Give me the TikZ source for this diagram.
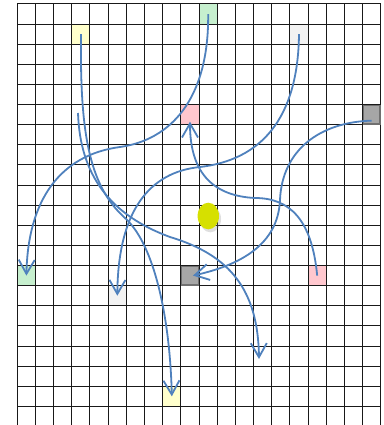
\documentclass[tikz,border=0pt]{standalone}
\usetikzlibrary{arrows.meta,shadows,shapes.geometric}
\definecolor{arrowblue}{RGB}{79,129,189}
\definecolor{cyellow}{RGB}{255,255,204}
\definecolor{cgreen}{RGB}{198,239,206}
\definecolor{clgray}{RGB}{242,242,242}
\definecolor{cpink}{RGB}{255,199,206}
\definecolor{cdgray}{RGB}{166,166,166}
\definecolor{cdborder}{RGB}{112,112,112}
\definecolor{ballcol}{RGB}{214,224,0}
\begin{document}
\begin{tikzpicture}[x=1pt,y=-1pt,
  cell/.style={rectangle,minimum width=18.17pt,minimum height=20.12pt,inner sep=0pt,outer sep=0pt,draw=none},
  darkcell/.style={rectangle,minimum width=16.7pt,minimum height=18.6pt,inner sep=0pt,outer sep=0pt,fill=cdgray,draw=cdborder,line width=1.5pt},
  gridline/.style={draw=black!90,line width=1pt},
  ball/.style={ellipse,fill=ballcol,minimum width=21.4pt,minimum height=26.6pt,inner sep=0pt,
    drop shadow={opacity=0.25,shadow xshift=2pt,shadow yshift=-3pt}},
  flow/.style={draw=arrowblue,line width=1.8pt,-{Straight Barb[length=14pt,width=16pt]}}
]
\useasboundingbox (0,0) rectangle (383,425);
\fill[white] (0,0) rectangle (383,425);
% coloured cells
\node[cell,fill=cyellow] (yellow1) at (80.98,34.18) {};
\node[cell,fill=cgreen]  (green1)  at (208.16,14.06) {};
\node[cell,fill=clgray]  (lgray1)  at (299.0,34.18) {};
\node[cell,fill=cpink]   (pink1)   at (189.99,114.66) {};
\node[cell,fill=cgreen]  (green2)  at (26.385,275.62) {};
\node[cell,fill=cpink]   (pink2)   at (317.17,275.62) {};
\node[cell,fill=clgray]  (lgray2)  at (117.32,295.74) {};
\node[cell,fill=cyellow] (yellow2) at (171.82,396.34) {};
% grid
\foreach \i in {0,...,20} \draw[gridline] ({17.3+18.17*\i},4) -- ({17.3+18.17*\i},425);
\foreach \j in {0,...,20} \draw[gridline] (17.3,{4+20.12*\j}) -- (380.7,{4+20.12*\j});
% dark cells
\node[darkcell] (dgray1) at (371.68,114.66) {};
\node[darkcell] (dgray2) at (189.99,275.62) {};
% ball
\node[ball] (ball) at (208.3,216) {};
% arrows
\draw[flow] (green1.center) .. controls (209,100) and (170,140) .. (120,147) .. controls (60,155) and (28,200) .. (green2.center);
\draw[flow] (yellow1.center) .. controls (80,130) and (88,185) .. (125,218) .. controls (155,245) and (170,320) .. (yellow2.center);
\draw[flow] (lgray1.center) .. controls (298,120) and (260,160) .. (200,167) .. controls (150,172) and (118,210) .. (lgray2.center);
\draw[flow] (pink2.center) .. controls (312,220) and (290,198) .. (255,198) .. controls (215,196) and (190,175) .. ([yshift=-7pt]pink1.center);
\draw[flow] ([yshift=-6pt]dgray1.center) .. controls (320,122) and (282,150) .. (280,200) .. controls (278,245) and (240,265) .. ([xshift=3pt]dgray2.center);
\coordinate (s) at (78,113);
\coordinate (e) at (259,359);
\draw[flow] (s) .. controls (80,175) and (110,215) .. (170,237) .. controls (230,255) and (258,290) .. (e);
\end{tikzpicture}
\end{document}
